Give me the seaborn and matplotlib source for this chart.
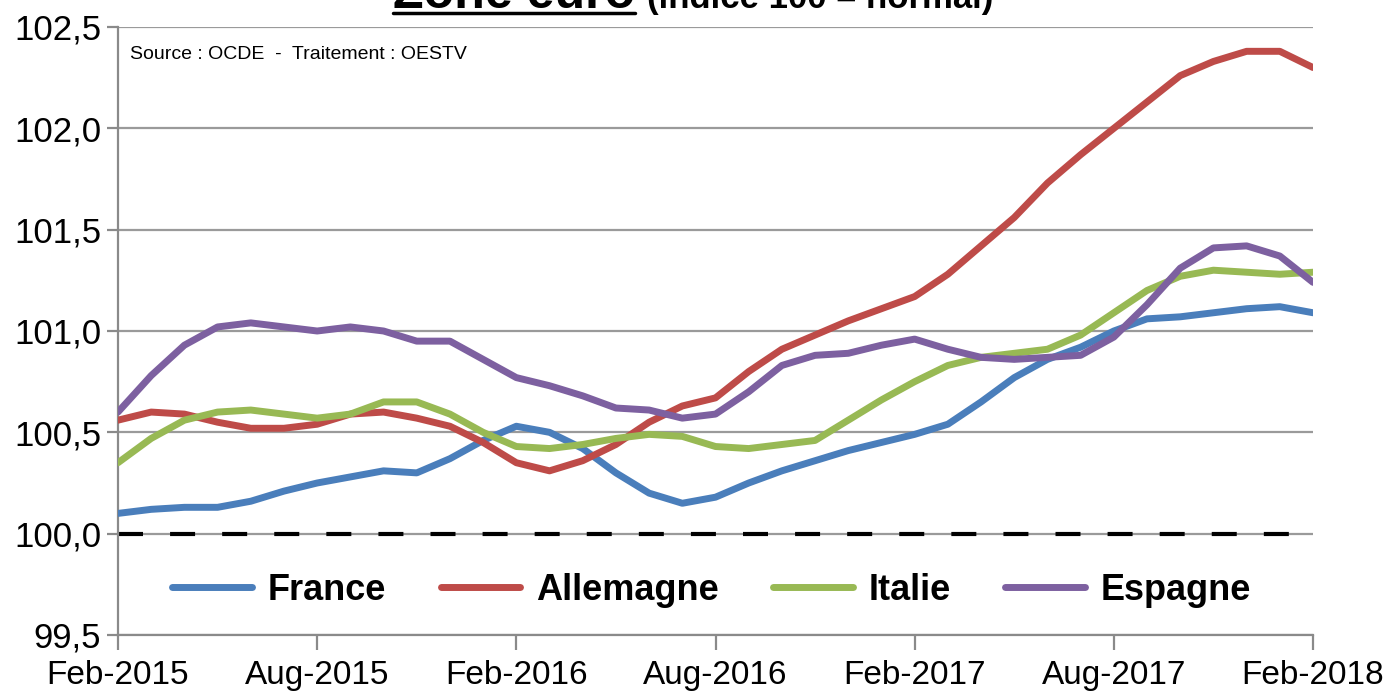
import numpy as np
import pandas as pd
import seaborn as sns
import matplotlib.pyplot as plt
from matplotlib import font_manager
from matplotlib.lines import Line2D

# Indice de confiance (base 100 = normal), mensuel de Feb-2015 a Feb-2018
france = [100.10, 100.12, 100.13, 100.13, 100.16, 100.21, 100.25, 100.28, 100.31,
          100.30, 100.37, 100.46, 100.53, 100.50, 100.42, 100.30, 100.20, 100.15,
          100.18, 100.25, 100.31, 100.36, 100.41, 100.45, 100.49, 100.54, 100.65,
          100.77, 100.86, 100.92, 101.00, 101.06, 101.07, 101.09, 101.11, 101.12,
          101.09]
allemagne = [100.56, 100.60, 100.59, 100.55, 100.52, 100.52, 100.54, 100.59, 100.60,
             100.57, 100.53, 100.45, 100.35, 100.31, 100.36, 100.44, 100.55, 100.63,
             100.67, 100.80, 100.91, 100.98, 101.05, 101.11, 101.17, 101.28, 101.42,
             101.56, 101.73, 101.87, 102.00, 102.13, 102.26, 102.33, 102.38, 102.38,
             102.30]
italie = [100.35, 100.47, 100.56, 100.60, 100.61, 100.59, 100.57, 100.59, 100.65,
          100.65, 100.59, 100.50, 100.43, 100.42, 100.44, 100.47, 100.49, 100.48,
          100.43, 100.42, 100.44, 100.46, 100.56, 100.66, 100.75, 100.83, 100.87,
          100.89, 100.91, 100.98, 101.09, 101.20, 101.27, 101.30, 101.29, 101.28,
          101.29]
espagne = [100.60, 100.78, 100.93, 101.02, 101.04, 101.02, 101.00, 101.02, 101.00,
           100.95, 100.95, 100.86, 100.77, 100.73, 100.68, 100.62, 100.61, 100.57,
           100.59, 100.70, 100.83, 100.88, 100.89, 100.93, 100.96, 100.91, 100.87,
           100.86, 100.87, 100.88, 100.97, 101.13, 101.31, 101.41, 101.42, 101.37,
           101.24]

pays = ['France', 'Allemagne', 'Italie', 'Espagne']
couleurs = ['#4A7EBB', '#BE4B48', '#98B954', '#7D60A0']
tick_labels = ['Feb-2015', 'Aug-2015', 'Feb-2016', 'Aug-2016',
               'Feb-2017', 'Aug-2017', 'Feb-2018']
y_ticks = [99.5, 100.0, 100.5, 101.0, 101.5, 102.0, 102.5]

sns.set_style('white')
# police etroite si dispo, sinon Liberation Sans
noms = {f.name for f in font_manager.fontManager.ttflist}
police = 'Liberation Sans Narrow' if 'Liberation Sans Narrow' in noms else 'Liberation Sans'
plt.rcParams['font.family'] = [police, 'DejaVu Sans']
plt.rcParams['text.color'] = 'black'
plt.rcParams['xtick.labelcolor'] = 'black'
plt.rcParams['ytick.labelcolor'] = 'black'

# mise en forme longue pour seaborn
mois = np.arange(len(france))
df = pd.DataFrame({'France': france, 'Allemagne': allemagne,
                   'Italie': italie, 'Espagne': espagne})
df['mois'] = mois
df_long = df.melt(id_vars='mois', var_name='pays', value_name='indice')

fig = plt.figure(figsize=(13.86, 6.98), dpi=100)
ax = fig.add_axes([118/1386, 63/698, 1195/1386, 608/698])

# grille horizontale
for v in y_ticks:
    ax.axhline(v, color='#9a9a9a', lw=1.6, zorder=0)
# ligne de reference a 100
ax.axhline(100.0, color='black', lw=3, linestyle=(0, (6, 6.5)), zorder=1)

sns.lineplot(data=df_long, x='mois', y='indice', hue='pays', hue_order=pays,
             palette=couleurs, linewidth=5, legend=False, ax=ax, zorder=3)
for l in ax.lines:
    l.set_solid_capstyle('round')
    l.set_solid_joinstyle('round')

ax.set_xlim(0, 36)
ax.set_ylim(99.5, 102.5)
ax.set_xticks(mois[::6])
ax.set_xticklabels(tick_labels)
ax.set_yticks(y_ticks)
ax.set_yticklabels([f'{v:.1f}'.replace('.', ',') for v in y_ticks])
ax.set_xlabel('')
ax.set_ylabel('')
ax.tick_params(axis='y', length=8, width=1.6, color='#8a8a8a', labelsize=25, pad=4, left=True)
ax.tick_params(axis='x', length=11, width=1.6, color='#8a8a8a', labelsize=24, pad=7, bottom=True)

for s in ['top', 'right']:
    ax.spines[s].set_visible(False)
for s in ['left', 'bottom']:
    ax.spines[s].set_color('#8a8a8a')
    ax.spines[s].set_linewidth(1.6)

# legende
handles = [Line2D([0], [0], color=c, lw=5, solid_capstyle='round') for c in couleurs]
leg = ax.legend(handles, pays, loc='center', bbox_to_anchor=(0.497, 0.074), ncol=4,
                frameon=False, handlelength=2.2, handletextpad=0.45, columnspacing=1.5,
                prop={'weight': 'bold', 'size': 26})

ax.text(0.01, 0.955, 'Source : OCDE  -  Traitement : OESTV', transform=ax.transAxes,
        fontsize=14, va='center', ha='left')

# titre (coupe en haut comme sur l'original)
t1 = fig.text(393/1386, 1 - 8/698, 'Zone euro', fontsize=36, weight='bold',
              ha='left', va='baseline')
fig.canvas.draw()
rend = fig.canvas.get_renderer()
bb = t1.get_window_extent(rend)
t2 = fig.text((bb.x1 + 12)/1386, 1 - 8/698, '(indice 100 = normal)', fontsize=25,
              weight='bold', ha='left', va='baseline')
y_sous = 1 - 13/698
fig.add_artist(Line2D([bb.x0/1386, bb.x1/1386], [y_sous, y_sous],
                      transform=fig.transFigure, color='black', lw=2.5))

plt.savefig('out.png', dpi=100)
